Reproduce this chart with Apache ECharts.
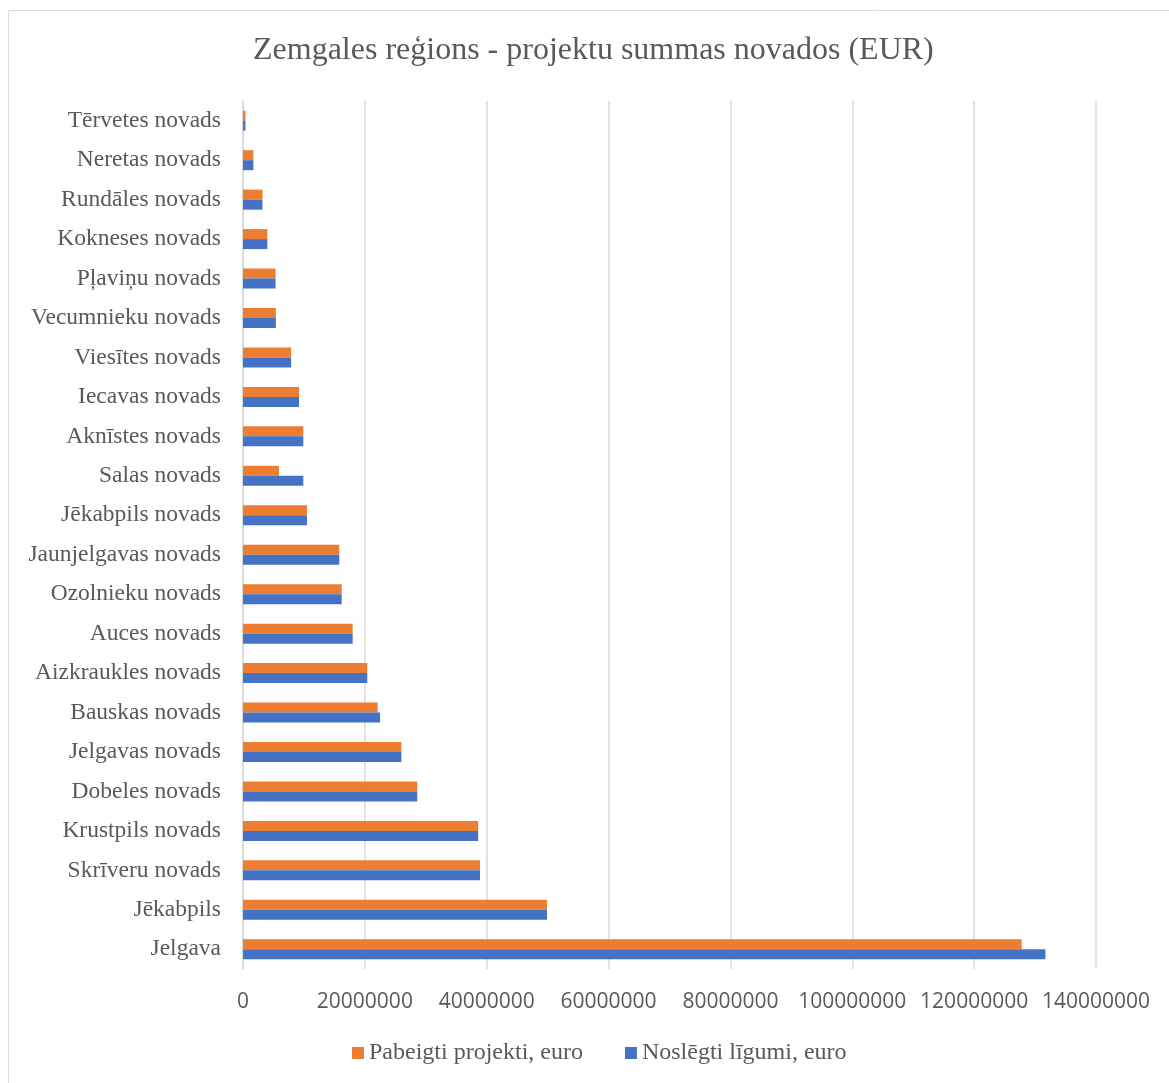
<!DOCTYPE html>
<html><head><meta charset="utf-8">
<script src="https://cdn.jsdelivr.net/npm/echarts@6/dist/echarts.min.js"></script>
<style>html,body{margin:0;padding:0;background:#fff}#c{width:1169px;height:1083px}</style>
</head><body><div id="c"></div>
<script>
// categories bottom -> top
const categories = ["Jelgava","Jēkabpils","Skrīveru novads","Krustpils novads","Dobeles novads","Jelgavas novads","Bauskas novads","Aizkraukles novads","Auces novads","Ozolnieku novads","Jaunjelgavas novads","Jēkabpils novads","Salas novads","Aknīstes novads","Iecavas novads","Viesītes novads","Vecumnieku novads","Pļaviņu novads","Kokneses novads","Rundāles novads","Neretas novads","Tērvetes novads"];
const pabeigti = [127800000,49900000,38900000,38600000,28600000,26000000,22100000,20400000,18000000,16200000,15800000,10500000,5900000,9900000,9200000,7900000,5400000,5350000,4000000,3200000,1700000,400000];
const nosledzti = [131700000,49900000,38900000,38600000,28600000,26000000,22500000,20400000,18000000,16200000,15800000,10500000,9900000,9900000,9200000,7900000,5400000,5350000,4000000,3200000,1700000,400000];
const xTicks = [0,20000000,40000000,60000000,80000000,100000000,120000000,140000000];

const chart = echarts.init(document.getElementById('c'));
const serif = '"Liberation Serif", "Times New Roman", serif';
chart.setOption({
  animation:false,
  graphic:[{type:'rect',shape:{x:8.5,y:10.5,width:1180,height:1100},style:{fill:'none',stroke:'#d9d9d9',lineWidth:1}}],
  title:{text:'Zemgales reģions - projektu summas novados (EUR)',left:248,top:30,
    textStyle:{fontFamily:serif,fontWeight:'normal',fontSize:32,color:'#595959'}},
  legend:{data:['Pabeigti projekti, euro','Noslēgti līgumi, euro'],bottom:13,left:347,
    itemWidth:12,itemHeight:12,itemGap:42,icon:'rect',
    textStyle:{fontFamily:serif,fontSize:24,color:'#595959'}},
  grid:{left:243,right:73,top:101,bottom:114,containLabel:false},
  xAxis:{type:'value',min:0,max:140000000,interval:20000000,
    axisLine:{show:false},axisTick:{show:false},
    splitLine:{lineStyle:{color:'#d9d9d9',width:1.5}},
    axisLabel:{fontFamily:'"Open Sans", sans-serif',fontSize:21,color:'#595959',margin:23,
      formatter:v=>xTicks.includes(v)?String(v):''}},
  yAxis:{type:'category',data:categories,
    axisLine:{lineStyle:{color:'#d9d9d9',width:1.5}},axisTick:{show:false},
    axisLabel:{fontFamily:serif,fontSize:23.5,color:'#595959',margin:22}},
  series:[
    {name:'Pabeigti projekti, euro',type:'bar',data:pabeigti,barWidth:10,barGap:'0%',itemStyle:{color:'#ed7d31'}},
    {name:'Noslēgti līgumi, euro',type:'bar',data:nosledzti,barWidth:10,barGap:'0%',itemStyle:{color:'#4472c4'}}
  ]
});
</script></body></html>
